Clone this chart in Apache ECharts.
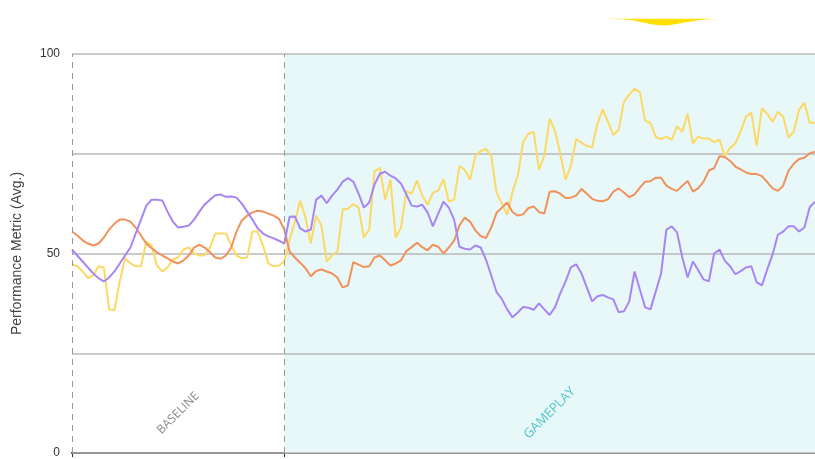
<!DOCTYPE html>
<html>
<head>
<meta charset="utf-8">
<script src="https://cdn.jsdelivr.net/npm/echarts@6/dist/echarts.min.js"></script>
<style>
  html, body { margin: 0; padding: 0; background: #fff; }
  #chart { width: 815px; height: 459px; }
</style>
</head>
<body>
<div id="chart"></div>
<script>
// phase split (sample index) and last sample
const splitIndex = 40;
const lastIndex = 140;

// purple series
const purpleBaseline = [51, 49.5, 48, 46.5, 45, 43.8, 43, 44, 45.5, 47.5, 49.5, 51.5, 55, 58.5, 62, 63.5, 63.5, 63.3, 60.5, 58,
  56.5, 56.7, 57, 58.5, 60.5, 62.3, 63.5, 64.6, 64.8, 64.2, 64.3, 64, 62.5, 60.5, 58.5, 56.3, 55, 54.3, 53.8, 53.2, 52.5];
const purpleGameplay = [59.2, 59.3, 56.3, 55.5, 56, 63.5, 64.5, 62.6, 64.5, 66,
  68, 68.9, 68, 65, 61.5, 62.8, 67.3, 70, 70.5, 69.5,
  68.8, 67.5, 64.8, 62, 61.8, 62.2, 60.3, 56.8, 60, 63,
  61.5, 58.5, 51.7, 51.2, 51, 52, 51.5, 48.5, 44.5, 40.3,
  38.6, 36, 34, 35.2, 36.6, 36.4, 35.9, 37.5, 36, 34.6,
  36.5, 40, 43, 46.5, 47.3, 45, 41.5, 38, 39.3, 39.6,
  39, 38.5, 35.3, 35.5, 38, 45.5, 41, 36.5, 36, 40.5,
  45, 56, 56.8, 55.3, 49, 44, 48, 45.8, 43.5, 43,
  50, 51, 48.2, 46.8, 44.8, 45.6, 46.5, 46.8, 42.8, 42,
  46, 49.7, 54.7, 55.5, 56.8, 56.8, 55.5, 56.5, 61.6, 63];

// orange series
const orangeBaseline = [55.5, 54.5, 53.3, 52.5, 52, 52.5, 54, 56, 57.5, 58.5, 58.5, 58, 56.5, 54.5, 52.5, 51.3, 50.3, 49.5, 48.8, 48,
  47.5, 48.3, 49.5, 51.5, 52.2, 51.5, 50.3, 49, 48.7, 49.5, 51.5, 55.5, 58.3, 59.5, 60.3, 60.7, 60.5, 60, 59.5, 58.7, 56];
const orangeGameplay = [50.5, 49, 47.7, 46.3, 44.3, 45.6, 46, 45.5, 45, 44,
  41.5, 42, 47.8, 47.2, 46.6, 46.8, 49, 49.5, 48.3, 47,
  47.5, 48.3, 50.6, 51.6, 52.7, 51.6, 50.8, 52.2, 51.7, 50,
  51.5, 53.2, 57, 59, 58, 55.8, 54.4, 53.9, 56.5, 60.2,
  61.5, 62.8, 60.4, 59.5, 59.8, 61.4, 61.8, 60.4, 60, 65.5,
  65.6, 65, 63.9, 64, 64.5, 66.2, 65, 63.7, 63.2, 63.1,
  63.6, 65.5, 66.3, 65.3, 64.1, 64.8, 66.5, 68, 68.1, 69,
  69, 67, 66.2, 65.7, 67, 68.2, 65.5, 66.4, 68, 70.8,
  71.4, 74.4, 74.2, 73.2, 71.8, 71.1, 70.3, 69.9, 69.9, 69.4,
  67.9, 66.3, 65.7, 67, 70.7, 72.5, 73.7, 74, 75.1, 75.5];

// yellow series
const yellowBaseline = [47.3, 46.8, 45.5, 43.8, 44.5, 46.8, 46.5, 36, 35.8, 43, 48.8, 47.5, 46.8, 46.8, 53, 52, 47, 45.5, 46.5, 48.5,
  49, 51, 51.5, 50, 49.5, 49.5, 51.5, 55, 55, 55, 52, 49.5, 48.8, 49, 55.5, 55.5, 52, 47.5, 46.8, 47, 48];
const yellowGameplay = [53.5, 58, 63.2, 59, 52.5, 59.5, 57, 48, 49.5, 50.5,
  61, 61.2, 62.4, 61.5, 54, 56, 70.6, 71.5, 63.5, 68.5,
  54, 56.5, 65.6, 65, 68.3, 64.5, 62.2, 65.2, 65.8, 68.6,
  63, 63.5, 71.9, 71, 68.5, 74.4, 75.7, 76.2, 74.4, 65.2,
  62.5, 59.7, 65.5, 69.5, 77.9, 80, 80.5, 71, 74.5, 83.8,
  80.8, 75, 68.5, 72, 78.7, 77.8, 77, 76.6, 82.5, 86.1,
  82.9, 79.7, 81, 88, 89.8, 91.3, 90.4, 83.3, 82.7, 79.2,
  78.7, 79.3, 78.5, 81.9, 80.5, 85, 77.6, 79.3, 78.8, 78.8,
  77.9, 78.5, 74.4, 76.5, 77.6, 80.7, 84.3, 85.3, 77, 86.4,
  85, 83, 85.5, 84.3, 79.1, 80.5, 86, 87.8, 82.8, 82.8];

const phaseNames = ['BASELINE', 'GAMEPLAY'];
const yTicks = [0, 50, 100];

const toPairs = (base, game) => base.concat(game).map((v, i) => [i, v]);

const chart = echarts.init(document.getElementById('chart'));

const option = {
  animation: false,
  grid: { left: 72, right: 0, top: 54, bottom: 2 },
  xAxis: {
    type: 'value',
    min: 0,
    max: lastIndex,
    axisLine: { show: true, onZero: false, lineStyle: { color: '#2b2b2b', width: 2 } },
    axisTick: { show: true, customValues: [0, splitIndex], length: 4, lineStyle: { color: '#2b2b2b' } },
    axisLabel: { show: false },
    splitLine: { show: false }
  },
  yAxis: {
    type: 'value',
    min: 0,
    max: 100,
    interval: 25,
    z: 2,
    name: 'Performance Metric (Avg.)',
    nameLocation: 'middle',
    nameGap: 48,
    nameTextStyle: { fontFamily: 'Liberation Sans', fontSize: 14, color: '#444' },
    axisLine: { show: false },
    axisTick: { show: false },
    axisLabel: {
      margin: 12,
      fontFamily: 'Liberation Sans',
      fontSize: 12,
      color: '#333',
      formatter: v => (yTicks.indexOf(v) >= 0 ? String(v) : '')
    },
    splitLine: { lineStyle: { color: '#b9b9b9', width: 1.5 } }
  },
  series: [
    {
      name: 'Yellow',
      type: 'line',
      z: 3,
      data: toPairs(yellowBaseline, yellowGameplay),
      showSymbol: false,
      lineStyle: { color: '#fcd964', width: 2 },
      itemStyle: { color: '#fcd964' },
      markArea: {
        silent: true,
        data: [
          [{ xAxis: 0, itemStyle: { color: 'rgba(0,0,0,0)' },
             label: { show: true, formatter: phaseNames[0], color: '#8a8a8a', fontSize: 12 } },
           { xAxis: splitIndex }],
          [{ xAxis: splitIndex, itemStyle: { color: '#e8f8f9' },
             label: { show: true, formatter: phaseNames[1], color: '#4ec6c8', fontSize: 13 } },
           { xAxis: lastIndex }]
        ],
        label: {
          position: ['50%', '90%'],
          align: 'center',
          verticalAlign: 'middle',
          rotate: 45,
          fontFamily: 'Open Sans'
        }
      },
      markLine: {
        silent: true,
        symbol: 'none',
        label: { show: false },
        lineStyle: { type: [6, 5], color: '#999', width: 1 },
        data: [{ xAxis: 0 }, { xAxis: splitIndex }]
      }
    },
    {
      name: 'Orange',
      type: 'line',
      z: 3,
      data: toPairs(orangeBaseline, orangeGameplay),
      showSymbol: false,
      lineStyle: { color: '#f0925a', width: 2 },
      itemStyle: { color: '#f0925a' }
    },
    {
      name: 'Purple',
      type: 'line',
      z: 3,
      data: toPairs(purpleBaseline, purpleGameplay),
      showSymbol: false,
      lineStyle: { color: '#a885f4', width: 2 },
      itemStyle: { color: '#a885f4' }
    }
  ],
  graphic: [
    {
      type: 'polygon',
      shape: {
        points: [[603, 19], [630, 20], [650, 24], [665, 25.5], [682, 23], [700, 20], [716, 19]],
        smooth: 0.3
      },
      style: { fill: '#ffe000' }
    }
  ]
};

chart.setOption(option);
</script>
</body>
</html>
